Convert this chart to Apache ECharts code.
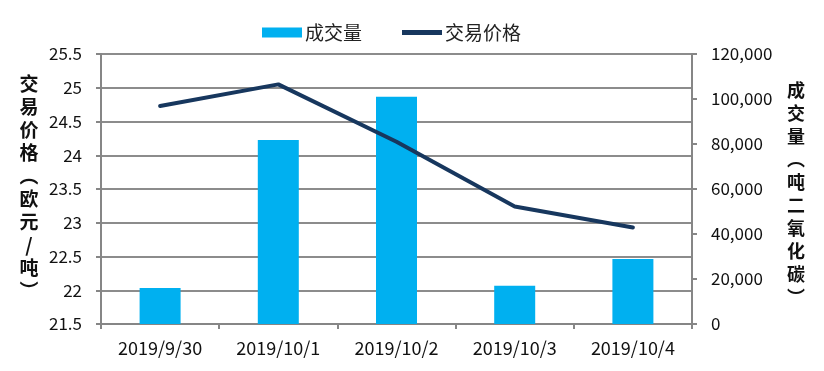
<!DOCTYPE html>
<html><head><meta charset="utf-8">
<script src="https://cdn.jsdelivr.net/npm/echarts@6/dist/echarts.min.js"></script>
<style>html,body{margin:0;padding:0;background:#fff}#c{width:824px;height:371px}</style>
</head><body><div id="c"></div>
<script>
const categories = ['2019/9/30','2019/10/1','2019/10/2','2019/10/3','2019/10/4'];
const volume = [16000, 81800, 101000, 17000, 28900];
const price = [24.73, 25.05, 24.2, 23.24, 22.93];
const leftTicks = {min: 21.5, max: 25.5, interval: 0.5};
const rightTicks = {min: 0, max: 120000, interval: 20000};
const leftName = ['交','易','价','格','︵','欧','元','/','吨','︶'];
const rightName = ['成','交','量','︵','吨','二','氧','化','碳','︶'];

const font = '"Noto Sans CJK SC","Noto Sans",sans-serif';
const chart = echarts.init(document.getElementById('c'));
chart.setOption({
  animation: false,
  textStyle: {fontFamily: font},
  legend: {
    top: 18, left: 257,
    itemWidth: 40, itemHeight: 10, itemGap: 40,
    textStyle: {fontSize: 19, color: '#222', fontFamily: font, padding: [0, 0, 0, -2]},
    data: [{name:'成交量', icon:'rect'}, {name:'交易价格', icon:'path://M0,0L36,0L36,4.5L0,4.5Z'}]
  },
  grid: {left: 101, right: 132, top: 54, bottom: 47, containLabel: false},
  xAxis: {
    type: 'category', data: categories,
    axisLine: {lineStyle: {color: '#868686', width: 2}},
    axisTick: {show: true, length: 5, lineStyle: {color: '#868686', width: 2}},
    axisLabel: {color: '#111', fontSize: 18, margin: 15, fontFamily: font}
  },
  yAxis: [{
    type: 'value', min: leftTicks.min, max: leftTicks.max, interval: leftTicks.interval,
    axisLine: {show: true, lineStyle: {color: '#868686', width: 2}},
    axisTick: {show: true, length: 5, lineStyle: {color: '#868686', width: 2}},
    axisLabel: {color: '#111', fontSize: 17, margin: 19, fontFamily: font},
    splitLine: {show: true, lineStyle: {color: '#8c8c8c', width: 2}}
  }, {
    type: 'value', min: rightTicks.min, max: rightTicks.max, interval: rightTicks.interval,
    axisLine: {show: true, lineStyle: {color: '#868686', width: 2}},
    axisTick: {show: true, length: 5, lineStyle: {color: '#868686', width: 2}},
    axisLabel: {color: '#111', fontSize: 17, margin: 19, fontFamily: font,
      formatter: v => v.toLocaleString('en-US')},
    splitLine: {show: false}
  }],
  graphic: [{
    type: 'text', x: 29, y: 72,
    style: {text: leftName.join('\n'), fontSize: 19, lineHeight: 23, fill: '#111',
      textAlign: 'center', textVerticalAlign: 'top', fontFamily: font, fontWeight: 'bold'}
  }, {
    type: 'text', x: 796, y: 79,
    style: {text: rightName.join('\n'), fontSize: 18, lineHeight: 23, fill: '#111',
      textAlign: 'center', textVerticalAlign: 'top', fontFamily: font, fontWeight: 'bold'}
  }],
  series: [{
    name: '成交量', type: 'bar', yAxisIndex: 1, data: volume,
    barWidth: 41, itemStyle: {color: '#00b0f0'}
  }, {
    name: '交易价格', type: 'line', yAxisIndex: 0, data: price,
    symbol: 'none', lineStyle: {color: '#17375e', width: 4, cap: 'round'},
    itemStyle: {color: '#17375e'}
  }]
});
</script></body></html>
